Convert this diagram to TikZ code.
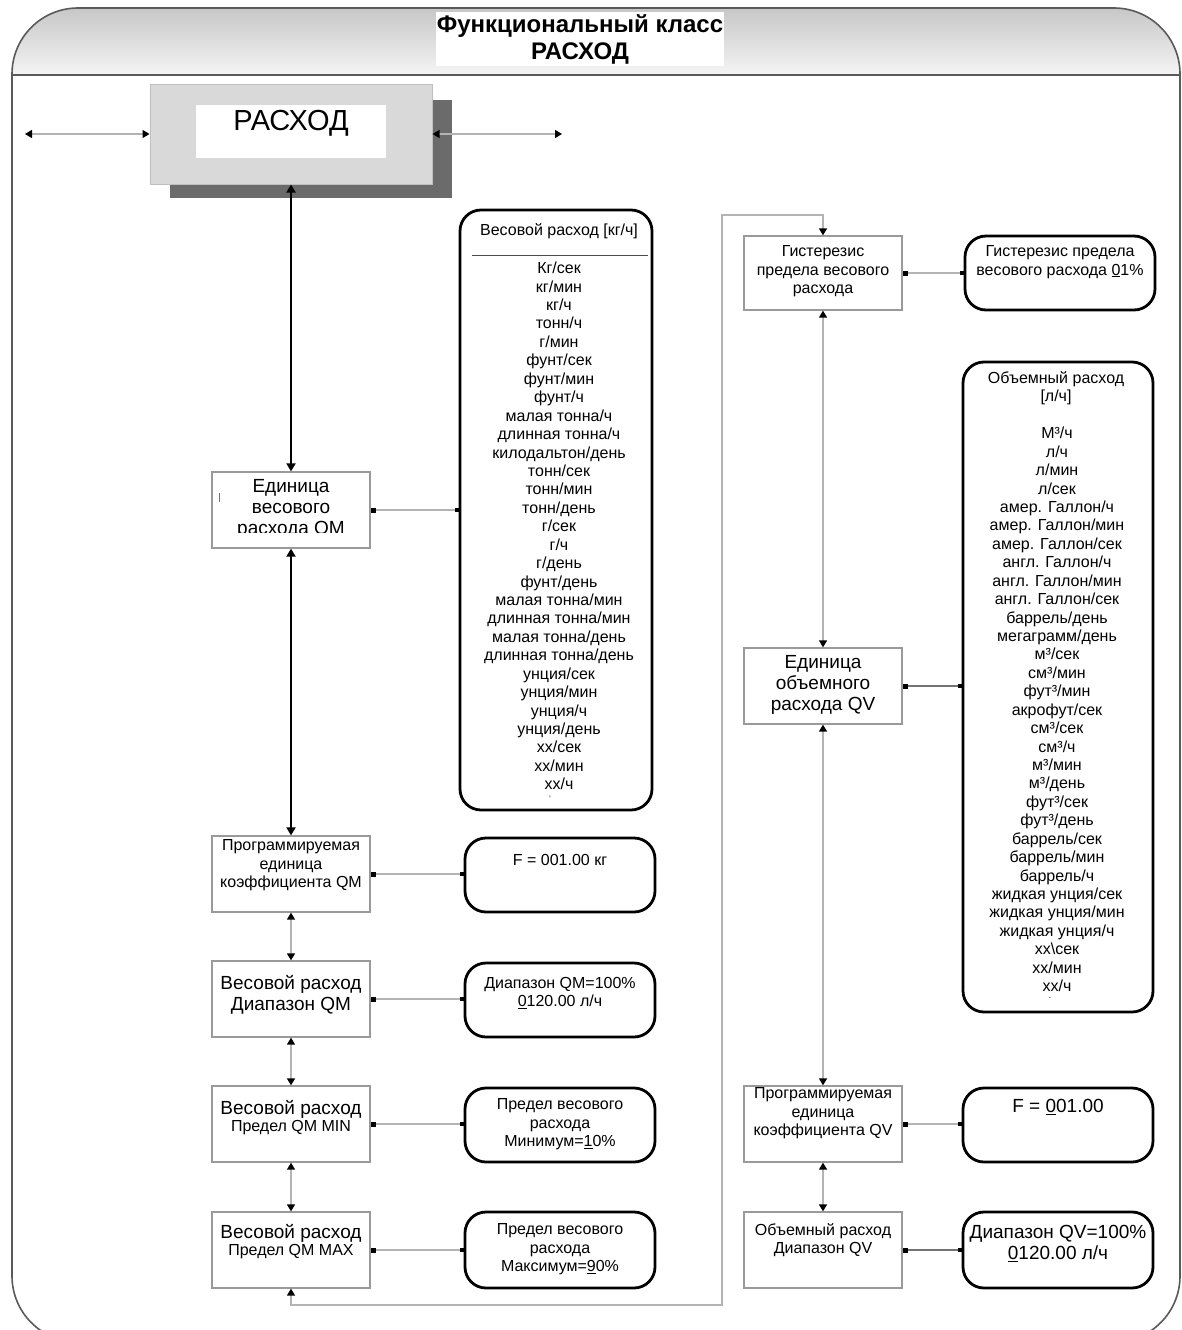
\documentclass[tikz,border=0pt]{standalone}
\usepackage{fontspec}
\setmainfont{Liberation Sans}
\usetikzlibrary{arrows.meta}

% font sizes used in the chart
\newcommand\fBig{\fontsize{19pt}{21pt}\selectfont}
\newcommand\fSm{\fontsize{16pt}{18.4pt}\selectfont}
\newcommand\fList{\fontsize{16pt}{18.43pt}\selectfont}
\newcommand\fTitle{\bfseries\fontsize{24pt}{27pt}\selectfont}

\definecolor{framec}{HTML}{5A5A5A}
\definecolor{linec}{HTML}{B4B4B4}
\definecolor{boxc}{HTML}{9A9A9A}

\tikzset{
  lbox/.style={draw=boxc, line width=1.3pt, fill=white, inner sep=0pt,
    minimum width=158pt, minimum height=76pt},
  rbox/.style={draw=black, line width=2.8pt, fill=white, inner sep=0pt,
    rounded corners=21pt, minimum width=190pt, minimum height=74pt},
  txt/.style={align=center, inner sep=0pt, font=\fSm},
  bigtxt/.style={align=center, inner sep=0pt, font=\fBig},
  flow/.style={draw=linec, line width=1.4pt, {Triangle[length=7pt,width=8pt,color=black]}-{Triangle[length=7pt,width=8pt,color=black]}},
  mainflow/.style={draw=black, line width=2.2pt, {Triangle[length=8pt,width=9pt]}-{Triangle[length=8pt,width=9pt]}},
  link/.style={draw=linec, line width=1.3pt, {Square[length=5pt,width=5pt,color=black]}-{Square[length=4pt,width=4pt,color=black]}},
}

\begin{document}
\begin{tikzpicture}[x=1pt, y=-1pt]
\useasboundingbox (0,0) rectangle (1182,1330);
\clip (0,0) rectangle (1182,1330);
\fill[white] (0,0) rectangle (1182,1330);

% header band
\shade[top color=black!22, bottom color=black!4]
  [rounded corners=66pt] (12,75) -- (12,8) -- (1180,8) [sharp corners] -- (1180,75) -- cycle;
\draw[framec, line width=2pt] (12,75) -- (1180,75);
% outer frame
\draw[framec, line width=1.6pt, rounded corners=66pt]
  (12,1342) -- (12,8) -- (1180,8) -- (1180,1342) -- cycle;

% title
\fill[white] (436,12) rectangle (724,66);
\node[align=center, inner sep=0pt, font=\fTitle] (title) at (580,39)
  {Функциональный класс\\РАСХОД};

% main block
\fill[black!58] (170,100) rectangle (452,198);
\node[draw=black!25, line width=1pt, fill=black!15, minimum width=282pt,
  minimum height=100pt, inner sep=0pt] (rash) at (291,134) {};
\fill[white] (196,105) rectangle (386,158);
\node[inner sep=0pt, font=\fontsize{29pt}{31pt}\selectfont] (rasht) at (291,123) {РАСХОД};

\coordinate (inL) at (25,134);
\coordinate (outR) at (562,134);

% ---------- left column ----------
\node[lbox] (qm)    at (291,510)  {};
\node[lbox] (pqm)   at (291,874)  {};
\node[lbox] (rqm)   at (291,999)  {};
\node[lbox] (minqm) at (291,1124) {};
\node[lbox] (maxqm) at (291,1250) {};

\begin{scope}
  \clip (214,474) rectangle (368,532);
  \node[bigtxt] (qmt) at (291,509) {Единица\\весового\\расхода QM};
\end{scope}
\draw[black!55, line width=1pt] (219,493) -- (219,502);
\node[txt] (pqmt) at (291,865.5) {Программируемая\\единица\\коэффициента QM};
\node[bigtxt] (rqmt) at (291,995) {Весовой расход\\Диапазон QM};
\node[align=center, inner sep=0pt] (minqmt) at (291,1118)
  {{\fBig Весовой расход}\\[1pt]{\fSm Предел QM MIN}};
\node[align=center, inner sep=0pt] (maxqmt) at (291,1242)
  {{\fBig Весовой расход}\\[1pt]{\fSm Предел QM MAX}};

% value boxes of the left column
\node[rbox, minimum width=192pt, minimum height=600pt] (listm) at (556,510) {};
\node[rbox] (fm)   at (560,875)  {};
\node[rbox] (drm)  at (560,1000) {};
\node[rbox] (pmin) at (560,1125) {};
\node[rbox, minimum height=76pt] (pmax) at (560,1250) {};

\node[txt, font=\fList] (listmh) at (559,231) {Весовой расход [кг/ч]};
\draw[black!70, line width=0.8pt] (472,255) -- (648,255);
\node[txt, font=\fList] (listmt) at (559,526) {Кг/сек\\кг/мин\\кг/ч\\тонн/ч\\г/мин\\фунт/сек\\фунт/мин\\фунт/ч\\малая тонна/ч\\длинная тонна/ч\\килодальтон/день\\тонн/сек\\тонн/мин\\тонн/день\\г/сек\\г/ч\\г/день\\фунт/день\\малая тонна/мин\\длинная тонна/мин\\малая тонна/день\\длинная тонна/день\\унция/сек\\унция/мин\\унция/ч\\унция/день\\хх/сек\\хх/мин\\хх/ч};
\node[inner sep=0pt, font=\fontsize{8pt}{8pt}\selectfont] (listmend) at (550,799) {'};

\node[txt] (fmt)   at (560,860)  {F = 001.00 кг};
\node[txt] (drmt)  at (560,993)  {Диапазон QM=100\%\\\underline{0}120.00 л/ч};
\node[txt] (pmint) at (560,1124.5) {Предел весового\\расхода\\Минимум=\underline{1}0\%};
\node[txt] (pmaxt) at (560,1249.5) {Предел весового\\расхода\\Максимум=\underline{9}0\%};

% ---------- right column ----------
\node[lbox, minimum height=74pt] (hys) at (823,273)  {};
\node[lbox] (qv)  at (823,686)  {};
\node[lbox] (pqv) at (823,1124) {};
\node[lbox] (rqv) at (823,1250) {};

\node[txt] (hyst) at (823,271.5) {Гистерезис\\предела весового\\расхода};
\node[bigtxt] (qvt) at (823,685) {Единица\\объемного\\расхода QV};
\node[txt] (pqvt) at (823,1113.5) {Программируемая\\единица\\коэффициента QV};
\node[txt] (rqvt) at (823,1240) {Объемный расход\\Диапазон QV};

\node[rbox] (hysv) at (1060,273) {};
\node[rbox, minimum height=650pt] (listv) at (1058,687) {};
\node[rbox] (fv)  at (1058,1125) {};
\node[rbox, minimum height=76pt] (drv) at (1058,1250) {};

\node[txt] (hysvt) at (1060,262) {Гистерезис предела\\весового расхода \underline{0}1\%};
\node[txt, font=\fList] (listvh) at (1056,388) {Объемный расход\\{[л/ч]}};
\node[txt, font=\fList] (listvt) at (1057,709.5) {М³/ч\\л/ч\\л/мин\\л/сек\\амер. Галлон/ч\\амер. Галлон/мин\\амер. Галлон/сек\\англ. Галлон/ч\\англ. Галлон/мин\\англ. Галлон/сек\\баррель/день\\мегаграмм/день\\м³/сек\\см³/мин\\фут³/мин\\акрофут/сек\\см³/сек\\см³/ч\\м³/мин\\м³/день\\фут³/сек\\фут³/день\\баррель/сек\\баррель/мин\\баррель/ч\\жидкая унция/сек\\жидкая унция/мин\\жидкая унция/ч\\хх\textbackslash сек\\хх/мин\\хх/ч};
\node[inner sep=0pt, font=\fontsize{8pt}{8pt}\selectfont] (listvend) at (1050,998) {.};
\node[bigtxt] (fvt) at (1058,1107) {F = \underline{0}01.00};
\node[bigtxt] (drvt) at (1058,1243.5) {Диапазон QV=100\%\\\underline{0}120.00 л/ч};

% ---------- connectors ----------
\draw[flow] (inL) -- (rash.west);
\draw[flow] (rash.east) -- (outR);
\draw[mainflow] (rash.south) -- (qm.north);
\draw[mainflow] (qm.south) -- (pqm.north);
\draw[flow] (pqm.south) -- (rqm.north);
\draw[flow] (rqm.south) -- (minqm.north);
\draw[flow] (minqm.south) -- (maxqm.north);

\coordinate (loopA) at (722,1305);
\coordinate (loopB) at (722,215);
\draw[flow] (maxqm.south) |- (loopA) -- (loopB) -| (hys.north);

\draw[flow] (hys.south) -- (qv.north);
\draw[flow] (qv.south) -- (pqv.north);
\draw[flow] (pqv.south) -- (rqv.north);

\draw[link] (qm.east) -- (qm.east -| listm.west);
\draw[link] (pqm.east) -- (pqm.east -| fm.west);
\draw[link] (rqm.east) -- (rqm.east -| drm.west);
\draw[link] (minqm.east) -- (minqm.east -| pmin.west);
\draw[link] (maxqm.east) -- (maxqm.east -| pmax.west);
\draw[link] (hys.east) -- (hys.east -| hysv.west);
\draw[link, draw=black!55] (qv.east) -- (qv.east -| listv.west);
\draw[link] (pqv.east) -- (pqv.east -| fv.west);
\draw[link, draw=black!55] (rqv.east) -- (rqv.east -| drv.west);
\end{tikzpicture}
\end{document}
